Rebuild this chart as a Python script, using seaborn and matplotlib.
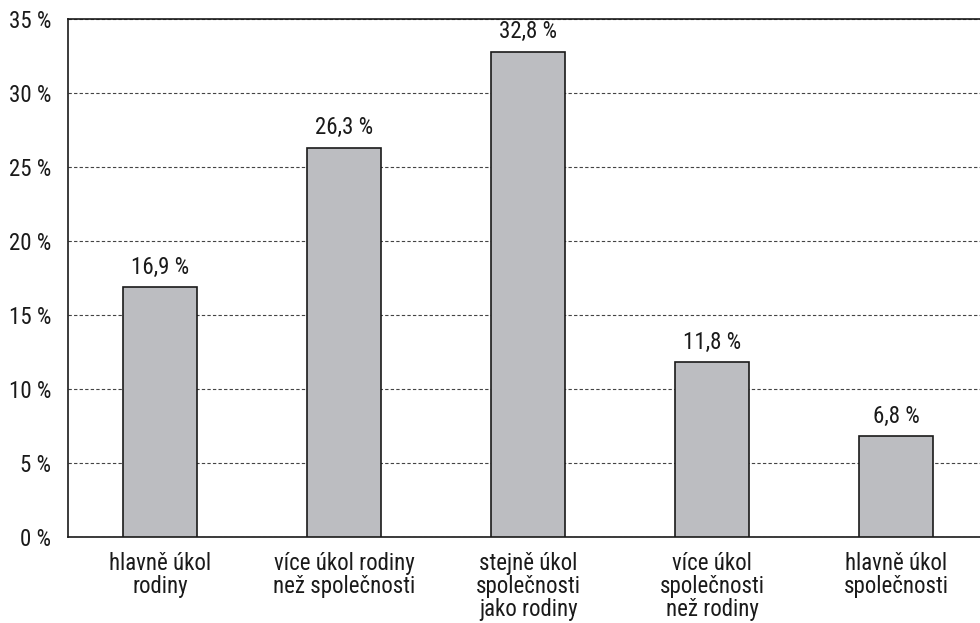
import matplotlib
matplotlib.use("Agg")
import pandas as pd
import seaborn as sns
import matplotlib.pyplot as plt
from matplotlib import font_manager
from matplotlib.ticker import FuncFormatter

categories = [
    "hlavně úkol\nrodiny",
    "více úkol rodiny\nnež společnosti",
    "stejně úkol\nspolečnosti\njako rodiny",
    "více úkol\nspolečnosti\nnež rodiny",
    "hlavně úkol\nspolečnosti",
]
values = [16.9, 26.3, 32.8, 11.8, 6.8]
value_labels = ["16,9 %", "26,3 %", "32,8 %", "11,8 %", "6,8 %"]

df = pd.DataFrame({"kategorie": categories, "podil": values})

sns.set_style("white")

# condensed font if there is one, otherwise Roboto
names = {f.name for f in font_manager.fontManager.ttflist}
condensed = [n for n in ["Roboto Condensed", "Liberation Sans Narrow", "Open Sans Condensed",
                         "DejaVu Sans Condensed"] if n in names]
if condensed:
    plt.rcParams["font.family"] = [condensed[0], "DejaVu Sans"]
    fs = 16.5
else:
    plt.rcParams["font.family"] = ["Roboto", "DejaVu Sans"]
    fs = 14

fig = plt.figure(figsize=(9.8, 6.23), dpi=100)
ax = fig.add_axes([0.0694, 0.138, 0.939, 0.8315])

sns.barplot(data=df, x="kategorie", y="podil", color="#bcbdc1",
            edgecolor="#1a1a1a", linewidth=1.2, width=0.4, saturation=1, ax=ax, zorder=3)

ax.bar_label(ax.containers[0], labels=value_labels, padding=6, fontsize=fs, color="#1a1a1a")

ax.set_ylim(0, 35)
ax.set_xlim(-0.5, 4.5)
ax.set_yticks(range(0, 36, 5))
ax.yaxis.set_major_formatter(FuncFormatter(lambda v, p: f"{int(v)} %"))
ax.grid(axis="y", linestyle=(0, (3, 2)), color="#444444", linewidth=0.8, zorder=0)

ax.set_xticks(range(5))
ax.set_xticklabels(categories, linespacing=1.0)
ax.set_xticks([i - 0.5 for i in range(6)], minor=True)
ax.tick_params(axis="x", which="major", length=0, pad=11, labelsize=fs, colors="#1a1a1a")
ax.tick_params(axis="x", which="minor", length=7, width=1, color="#666666", direction="out")
ax.tick_params(axis="y", length=7, width=1, color="#1a1a1a", labelsize=fs, labelcolor="#1a1a1a", pad=5)

for s in ["left", "bottom", "top"]:
    ax.spines[s].set_color("#1a1a1a")
    ax.spines[s].set_linewidth(1.2)
ax.spines["right"].set_visible(False)

ax.set_xlabel("")
ax.set_ylabel("")

fig.savefig("out.png", dpi=100)
